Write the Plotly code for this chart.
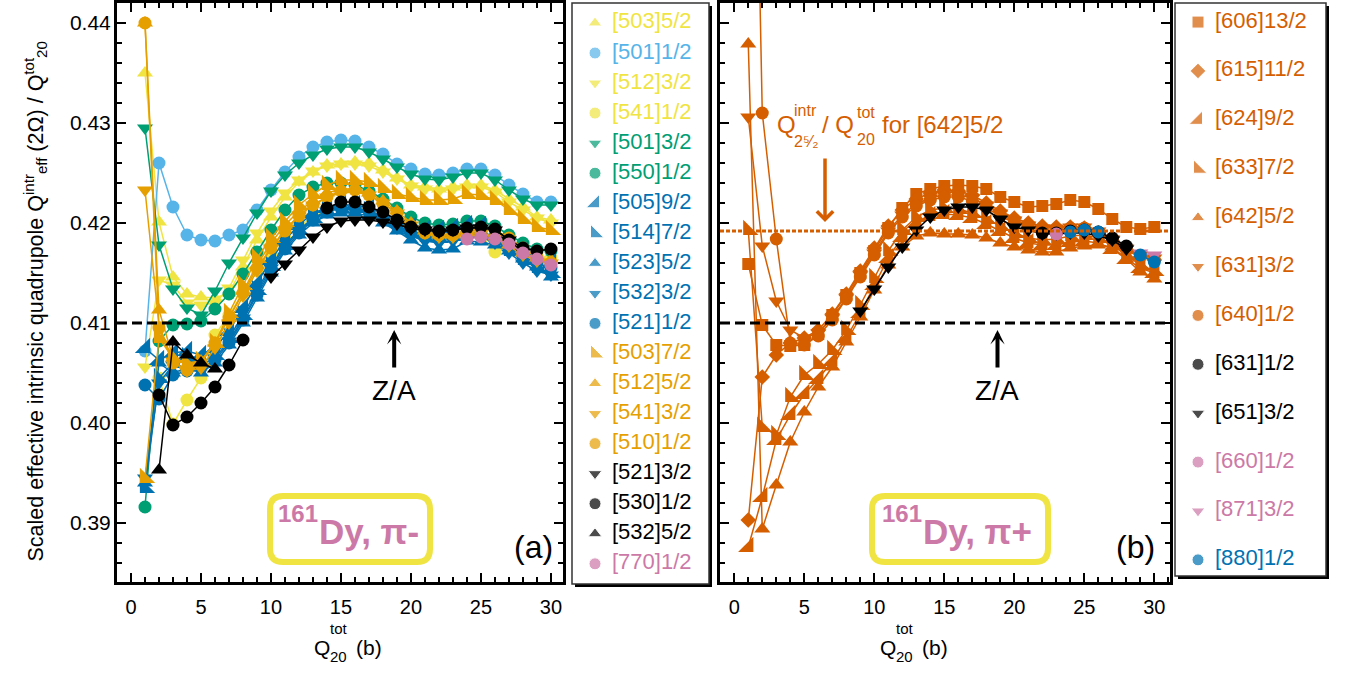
import plotly.graph_objects as go

W, H = 1353, 675
Q = list(range(1, 31))
N = None

# ---------------- panel (a) : pi- ----------------
a_labels = ["[503]5/2", "[501]1/2", "[512]3/2", "[541]1/2", "[501]3/2", "[550]1/2",
            "[505]9/2", "[514]7/2", "[523]5/2", "[532]3/2", "[521]1/2", "[503]7/2",
            "[512]5/2", "[541]3/2", "[510]1/2", "[521]3/2", "[530]1/2", "[532]5/2", "[770]1/2"]
a_colors = ["#F0E442", "#56B4E9", "#F0E442", "#F0E442", "#009E73", "#009E73",
            "#0072B2", "#0072B2", "#0072B2", "#0072B2", "#0072B2", "#E69F00",
            "#E69F00", "#E69F00", "#E69F00", "#000000", "#000000", "#000000", "#CC79A7"]
a_symbols = ["triangle-up", "circle", "triangle-down", "circle", "triangle-down", "circle",
             "triangle-se", "triangle-sw", "triangle-up", "triangle-down", "circle", "triangle-sw",
             "triangle-up", "triangle-down", "circle", "triangle-down", "circle", "triangle-up", "circle"]

a_503_5 = [0.4350, 0.4201, 0.4146, 0.4129, 0.4126, 0.4125, 0.4130, 0.4156, 0.4183, 0.4206, 0.4226, 0.4241, 0.4251, 0.4258, 0.4259,
           0.4261, 0.4260, 0.4253, 0.4245, 0.4238, 0.4236, 0.4234, 0.4236, 0.4238, 0.4238, 0.4233, 0.4224, 0.4216, 0.4206, 0.4203]
a_501_1 = [0.4072, 0.4260, 0.4216, 0.4188, 0.4183, 0.4182, 0.4188, 0.4193, 0.4213, 0.4233, 0.4251, 0.4266, 0.4276, 0.4281, 0.4283,
           0.4282, 0.4276, 0.4269, 0.4259, 0.4254, 0.4249, 0.4248, 0.4250, 0.4254, 0.4254, 0.4248, 0.4238, 0.4229, 0.4221, 0.4221]
a_512_3 = [0.4056, 0.4143, 0.4138, 0.4120, 0.4118, 0.4120, 0.4135, 0.4163, 0.4190, 0.4212, 0.4230, 0.4243, 0.4252, 0.4257, 0.4259,
           0.4259, 0.4257, 0.4251, 0.4244, 0.4237, 0.4234, 0.4232, 0.4234, 0.4236, 0.4236, 0.4231, 0.4221, 0.4213, 0.4205, 0.4200]
a_541_1 = [N, 0.4045, 0.3999, 0.4023, 0.4045, 0.4088, 0.4108, 0.4130, 0.4152, 0.4170, 0.4185, 0.4197, 0.4206, 0.4213, 0.4216,
           0.4216, 0.4212, 0.4205, 0.4198, 0.4190, 0.4187, 0.4186, 0.4188, 0.4190, 0.4188, 0.4171, 0.4180, 0.4174, 0.4168, 0.4165]
a_501_3 = [0.4295, 0.4178, 0.4134, 0.4115, 0.4108, 0.4132, 0.4160, 0.4185, 0.4210, 0.4232, 0.4248, 0.4260, 0.4268, 0.4274, 0.4276,
           0.4276, 0.4271, 0.4264, 0.4256, 0.4249, 0.4244, 0.4243, 0.4246, 0.4250, 0.4250, 0.4243, 0.4233, 0.4224, 0.4218, 0.4218]
a_550_1 = [0.3916, 0.4082, 0.4098, 0.4099, 0.4102, 0.4114, 0.4129, 0.4149, 0.4171, 0.4193, 0.4213, 0.4228, 0.4236, 0.4240, 0.4240,
           0.4238, 0.4232, 0.4224, 0.4215, 0.4206, 0.4200, 0.4198, 0.4199, 0.4202, 0.4202, 0.4197, 0.4188, 0.4180, 0.4174, 0.4172]
a_505_9 = [0.4075, 0.4063, 0.4070, 0.4072, 0.4068, 0.4075, 0.4092, 0.4115, 0.4140, 0.4163, 0.4183, 0.4198, 0.4210, 0.4215, 0.4218,
           0.4218, 0.4215, 0.4210, 0.4203, 0.4196, 0.4193, 0.4193, 0.4195, 0.4198, 0.4197, 0.4190, 0.4180, 0.4172, 0.4165, 0.4160]
a_514_7 = [0.3935, 0.4045, 0.4060, 0.4066, 0.4060, 0.4068, 0.4085, 0.4108, 0.4133, 0.4157, 0.4178, 0.4193, 0.4205, 0.4212, 0.4215,
           0.4215, 0.4212, 0.4205, 0.4197, 0.4190, 0.4186, 0.4185, 0.4187, 0.4190, 0.4189, 0.4183, 0.4172, 0.4163, 0.4155, 0.4150]
a_523_5 = [0.3940, 0.4060, 0.4050, 0.4055, 0.4050, 0.4060, 0.4078, 0.4100, 0.4125, 0.4150, 0.4172, 0.4188, 0.4200, 0.4208, 0.4210,
           0.4210, 0.4207, 0.4200, 0.4192, 0.4183, 0.4175, 0.4173, 0.4174, 0.4182, 0.4181, 0.4178, 0.4172, 0.4164, 0.4156, 0.4146]
a_532_3 = [0.3945, 0.4040, 0.4058, 0.4063, 0.4058, 0.4065, 0.4082, 0.4105, 0.4130, 0.4155, 0.4176, 0.4192, 0.4204, 0.4212, 0.4215,
           0.4214, 0.4210, 0.4203, 0.4195, 0.4187, 0.4182, 0.4180, 0.4182, 0.4186, 0.4186, 0.4180, 0.4170, 0.4160, 0.4152, 0.4148]
a_521_1 = [0.4038, 0.4024, 0.4048, 0.4052, 0.4055, 0.4063, 0.4080, 0.4103, 0.4128, 0.4152, 0.4174, 0.4190, 0.4203, 0.4211, 0.4215,
           0.4215, 0.4212, 0.4206, 0.4198, 0.4190, 0.4186, 0.4185, 0.4187, 0.4190, 0.4190, 0.4186, 0.4176, 0.4167, 0.4160, 0.4155]
a_503_7 = [0.3945, 0.4085, 0.4065, 0.4060, 0.4062, 0.4080, 0.4110, 0.4138, 0.4165, 0.4185, 0.4201, 0.4218, 0.4229, 0.4238, 0.4243,
           0.4243, 0.4241, 0.4235, 0.4229, 0.4226, 0.4223, 0.4223, 0.4224, 0.4229, 0.4228, 0.4223, 0.4213, 0.4204, 0.4196, 0.4193]
a_512_5 = [0.4400, 0.4113, 0.4065, 0.4058, 0.4062, 0.4080, 0.4105, 0.4132, 0.4158, 0.4180, 0.4198, 0.4212, 0.4222, 0.4230, 0.4234,
           0.4234, 0.4230, 0.4222, 0.4212, 0.4200, 0.4192, 0.4188, 0.4188, 0.4190, 0.4190, 0.4186, 0.4178, 0.4170, 0.4165, 0.4163]
a_541_3 = [0.4233, 0.4098, 0.4062, 0.4052, 0.4055, 0.4075, 0.4100, 0.4127, 0.4152, 0.4175, 0.4193, 0.4208, 0.4218, 0.4226, 0.4230,
           0.4231, 0.4228, 0.4220, 0.4210, 0.4198, 0.4190, 0.4186, 0.4186, 0.4188, 0.4190, 0.4185, 0.4177, 0.4168, 0.4162, 0.4160]
a_510_1 = [0.4400, 0.4095, 0.4060, 0.4053, 0.4060, 0.4080, 0.4105, 0.4130, 0.4155, 0.4175, 0.4192, 0.4207, 0.4218, 0.4226, 0.4232,
           0.4233, 0.4228, 0.4219, 0.4210, 0.4197, 0.4190, 0.4188, 0.4188, 0.4192, 0.4195, 0.4193, 0.4185, 0.4175, 0.4165, 0.4160]
a_521_3 = [N, N, N, N, N, N, N, N, N, 0.4146, 0.4159, 0.4173, 0.4186, 0.4196, 0.4202,
           0.4203, 0.4203, 0.4201, 0.4199, 0.4194, 0.4193, 0.4191, 0.4193, 0.4195, 0.4195, 0.4193, 0.4183, 0.4171, N, N]
a_530_1 = [N, 0.4028, 0.3998, 0.4006, 0.4020, 0.4036, 0.4058, 0.4083, N, N, N, N, N, 0.4215, 0.4221,
           0.4221, 0.4216, 0.4211, 0.4203, 0.4196, 0.4194, 0.4192, 0.4193, 0.4195, 0.4196, 0.4194, 0.4183, 0.4175, 0.4172, 0.4174]
a_532_5 = [N, 0.3953, 0.4081, 0.4068, 0.4060, 0.4054, N, N, N, N, N, N, N, N, N,
           N, N, N, N, N, N, N, N, N, N, N, N, N, N, N]
a_770_1 = [N, N, N, N, N, N, N, N, N, N, N, N, N, N, N,
           N, N, N, N, N, N, N, N, 0.4184, 0.4186, 0.4184, 0.4179, 0.4170, 0.4164, 0.4158]

a_series = [a_503_5, a_501_1, a_512_3, a_541_1, a_501_3, a_550_1, a_505_9, a_514_7, a_523_5, a_532_3,
            a_521_1, a_503_7, a_512_5, a_541_3, a_510_1, a_521_3, a_530_1, a_532_5, a_770_1]

# ---------------- panel (b) : pi+ ----------------
b_labels = ["[606]13/2", "[615]11/2", "[624]9/2", "[633]7/2", "[642]5/2", "[631]3/2",
            "[640]1/2", "[631]1/2", "[651]3/2", "[660]1/2", "[871]3/2", "[880]1/2"]
b_colors = ["#D55E00"] * 7 + ["#000000", "#000000", "#CC79A7", "#CC79A7", "#0072B2"]
b_symbols = ["square", "diamond", "triangle-se", "triangle-sw", "triangle-up", "triangle-down",
             "circle", "circle", "triangle-down", "circle", "triangle-down", "circle"]

b_606_13 = [0.4159, 0.4098, 0.4078, 0.4077, 0.4078, 0.4089, 0.4108, 0.4128, 0.4150, 0.4172, 0.4195, 0.4215, 0.4229, 0.4234, 0.4237,
            0.4238, 0.4237, 0.4234, 0.4226, 0.4221, 0.4216, 0.4217, 0.4219, 0.4223, 0.4221, 0.4214, 0.4204, 0.4196, 0.4194, 0.4196]
b_615_11 = [0.3903, 0.4046, 0.4068, 0.4080, 0.4085, 0.4093, 0.4109, 0.4129, 0.4152, 0.4175, 0.4197, 0.4213, 0.4224, 0.4230, 0.4233,
            0.4232, 0.4228, 0.4220, 0.4212, 0.4205, 0.4200, 0.4197, 0.4196, 0.4196, 0.4195, 0.4190, 0.4182, 0.4173, 0.4166, 0.4163]
b_624_9 = [0.3876, 0.3926, 0.3983, 0.4008, 0.4029, 0.4044, 0.4062, 0.4085, 0.4110, 0.4138, 0.4165, 0.4186, 0.4200, 0.4207, 0.4209,
           0.4208, 0.4205, 0.4199, 0.4192, 0.4185, 0.4180, 0.4178, 0.4178, 0.4181, 0.4182, 0.4180, 0.4174, 0.4164, 0.4155, 0.4150]
b_633_7 = [0.4193, 0.3996, 0.3988, 0.4026, 0.4048, 0.4059, 0.4073, 0.4093, 0.4118, 0.4145, 0.4172, 0.4193, 0.4206, 0.4213, 0.4215,
           0.4214, 0.4210, 0.4204, 0.4197, 0.4190, 0.4185, 0.4183, 0.4184, 0.4187, 0.4188, 0.4185, 0.4178, 0.4168, 0.4158, 0.4152]
b_642_5 = [0.4379, 0.3894, 0.3938, 0.3981, 0.4011, 0.4036, 0.4056, 0.4081, 0.4106, 0.4133, 0.4158, 0.4176, 0.4187, 0.4190, 0.4189,
           0.4189, 0.4188, 0.4185, 0.4180, 0.4176, 0.4173, 0.4171, 0.4171, 0.4175, 0.4177, 0.4178, 0.4176, 0.4164, 0.4151, 0.4144]
b_631_3 = [0.4306, 0.4177, 0.4122, 0.4093, 0.4085, 0.4090, 0.4105, 0.4125, 0.4148, 0.4170, 0.4192, 0.4208, 0.4219, 0.4225, 0.4228,
           0.4228, 0.4225, 0.4218, 0.4210, 0.4203, 0.4198, 0.4195, 0.4195, 0.4196, 0.4196, 0.4192, 0.4184, 0.4175, 0.4168, 0.4165]
b_640_1 = [0.5000, 0.4310, 0.4184, 0.4080, 0.4078, 0.4087, 0.4103, 0.4124, 0.4146, 0.4168, 0.4190, 0.4206, 0.4217, 0.4223, 0.4226,
           0.4226, 0.4222, 0.4215, 0.4207, 0.4200, 0.4196, 0.4193, 0.4193, 0.4195, 0.4195, 0.4190, 0.4182, 0.4173, 0.4166, 0.4163]
b_631_1 = [N, N, N, N, N, N, N, N, N, N, N, N, N, N, N,
           N, N, N, N, N, N, 0.4190, 0.4190, 0.4192, 0.4193, 0.4191, 0.4185, 0.4177, N, N]
b_651_3 = [N, N, N, N, N, N, N, N, 0.4112, 0.4134, 0.4156, 0.4176, 0.4193, 0.4206, 0.4213,
           0.4216, 0.4216, 0.4213, 0.4204, 0.4196, 0.4193, 0.4189, 0.4189, 0.4190, 0.4190, 0.4187, 0.4183, 0.4174, N, N]
b_660_1 = [N, N, N, N, N, N, N, N, N, N, N, N, N, N, N,
           N, N, N, N, N, N, N, 0.4189, N, N, N, N, N, N, N]
b_871_3 = [N, N, N, N, N, N, N, N, N, N, N, N, N, N, N,
           N, N, N, N, N, N, N, N, N, N, N, N, N, 0.4170, 0.4168]
b_880_1 = [N, N, N, N, N, N, N, N, N, N, N, N, N, N, N,
           N, N, N, N, N, N, N, N, 0.4191, 0.4193, 0.4191, N, N, 0.4168, 0.4161]

b_series = [b_606_13, b_615_11, b_624_9, b_633_7, b_642_5, b_631_3, b_640_1,
            b_631_1, b_651_3, b_660_1, b_871_3, b_880_1]

ZA = 0.41           # Z/A reference line
Q2_642 = 0.4192     # Q_{2 5/2}^intr / Q20^tot for [642]5/2

FONT = "Liberation Sans"
VERM = "#D55E00"
PINK = "#CC79A7"


def px_x(p):
    return p / W


def px_y(p):
    return 1 - p / H


fig = go.Figure()


def msize(sym):
    if sym in ("triangle-se", "triangle-sw"):
        return 17
    if sym in ("diamond", "square"):
        return 12
    if sym in ("triangle-up", "triangle-down"):
        return 14
    return 13


for vals, col, sym in zip(a_series, a_colors, a_symbols):
    fig.add_trace(go.Scatter(x=Q, y=vals, mode="lines+markers", xaxis="x", yaxis="y",
                             line=dict(color=col, width=1.5),
                             marker=dict(symbol=sym, size=msize(sym), color=col),
                             connectgaps=False, showlegend=False, hoverinfo="skip"))
for vals, col, sym in zip(b_series, b_colors, b_symbols):
    fig.add_trace(go.Scatter(x=Q, y=vals, mode="lines+markers", xaxis="x2", yaxis="y2",
                             line=dict(color=col, width=1.5),
                             marker=dict(symbol=sym, size=msize(sym), color=col),
                             connectgaps=False, showlegend=False, hoverinfo="skip"))

# reference lines
for xa, ya, xr in (("x", "y", [-1, 30.86]), ("x2", "y2", [-1.02, 31.12])):
    fig.add_trace(go.Scatter(x=xr, y=[ZA, ZA], mode="lines", xaxis=xa, yaxis=ya,
                             line=dict(color="black", width=3, dash="10px,5px"),
                             showlegend=False, hoverinfo="skip"))
fig.add_trace(go.Scatter(x=[-1.02, 31.12], y=[Q2_642, Q2_642], mode="lines", xaxis="x2", yaxis="y2",
                         line=dict(color=VERM, width=3, dash="4px,2px"),
                         showlegend=False, hoverinfo="skip"))


# ---------------- custom legends ----------------
def add_legend(labels, colors, symbols, xa, ya):
    n = len(labels)
    ys = [-i for i in range(n)]
    fig.add_trace(go.Scatter(x=[23] * n, y=ys, mode="markers", xaxis=xa, yaxis=ya,
                             marker=dict(symbol=symbols, color=colors,
                                         size=[12 if s not in ("triangle-se", "triangle-sw") else 15 for s in symbols]),
                             showlegend=False, hoverinfo="skip"))
    fig.add_trace(go.Scatter(x=[40] * n, y=ys, mode="text", xaxis=xa, yaxis=ya, text=labels,
                             textposition="middle right",
                             textfont=dict(family=FONT, size=22, color=colors),
                             showlegend=False, hoverinfo="skip"))


add_legend(a_labels, a_colors, a_symbols, "x3", "y3")
add_legend(b_labels, b_colors, b_symbols, "x4", "y4")

tickfont_y = dict(family=FONT, size=21, color="black")
tickfont_x = dict(family=FONT, size=20, color="black")
ax_common = dict(showline=True, linewidth=3, linecolor="black", mirror="allticks",
                 ticks="inside", ticklen=9, tickwidth=2, tickcolor="black",
                 showgrid=False, zeroline=False)
ydom = [px_y(582), px_y(3)]

fig.update_layout(
    width=W, height=H, margin=dict(l=0, r=0, t=0, b=0),
    paper_bgcolor="white", plot_bgcolor="white", showlegend=False,
    xaxis=dict(domain=[px_x(117), px_x(563)], range=[-1, 30.86], dtick=5, tick0=0,
               minor=dict(ticks="inside", ticklen=5, tickwidth=1.5, dtick=1, tickcolor="black"),
               tickfont=tickfont_x, ticklabelstandoff=5, anchor="y", **ax_common),
    yaxis=dict(domain=ydom, range=[0.3841, 0.4420], dtick=0.01, tick0=0.39, tickformat=".2f",
               minor=dict(ticks="inside", ticklen=5, tickwidth=1.5, dtick=0.002, tickcolor="black"),
               tickfont=tickfont_y, ticklabelstandoff=-1, anchor="x", **ax_common),
    xaxis2=dict(domain=[px_x(720), px_x(1170)], range=[-1.02, 31.12], dtick=5, tick0=0,
                minor=dict(ticks="inside", ticklen=5, tickwidth=1.5, dtick=1, tickcolor="black"),
                tickfont=tickfont_x, ticklabelstandoff=5, anchor="y2", **ax_common),
    yaxis2=dict(domain=ydom, range=[0.3841, 0.4420], dtick=0.01, tick0=0.39,
                minor=dict(ticks="inside", ticklen=5, tickwidth=1.5, dtick=0.002, tickcolor="black"),
                showticklabels=False, anchor="x2", **ax_common),
    xaxis3=dict(domain=[px_x(572), px_x(709)], range=[0, 137], visible=False, anchor="y3"),
    yaxis3=dict(domain=[px_y(584), px_y(3)], range=[-18.672, 0.664], visible=False, anchor="x3"),
    xaxis4=dict(domain=[px_x(1175), px_x(1326)], range=[0, 151], visible=False, anchor="y4"),
    yaxis4=dict(domain=[px_y(576), px_y(3)], range=[-11.33, 0.39], visible=False, anchor="x4"),
)

shapes = []
# legend boxes with shadow
for (x0, y0, x1, y1) in ((572, 3, 709, 584), (1175, 3, 1326, 576)):
    shapes.append(dict(type="rect", xref="paper", yref="paper", layer="below",
                       x0=px_x(x0 + 3), x1=px_x(x1 + 3), y0=px_y(y1 + 3), y1=px_y(y0 + 3),
                       fillcolor="black", line=dict(width=0)))
    shapes.append(dict(type="rect", xref="paper", yref="paper", layer="below",
                       x0=px_x(x0), x1=px_x(x1), y0=px_y(y1), y1=px_y(y0),
                       fillcolor="white", line=dict(color="#333333", width=1.5)))


def rrect(x0, y0, x1, y1, r):
    def P(x, y):
        return f"{px_x(x):.5f},{px_y(y):.5f}"
    return ("M" + P(x0 + r, y0) + " L" + P(x1 - r, y0) + " Q" + P(x1, y0) + " " + P(x1, y0 + r) +
            " L" + P(x1, y1 - r) + " Q" + P(x1, y1) + " " + P(x1 - r, y1) +
            " L" + P(x0 + r, y1) + " Q" + P(x0, y1) + " " + P(x0, y1 - r) +
            " L" + P(x0, y0 + r) + " Q" + P(x0, y0) + " " + P(x0 + r, y0) + " Z")


for (x0, y0, x1, y1) in ((270, 496, 430, 562), (872, 496, 1048, 562)):
    shapes.append(dict(type="path", xref="paper", yref="paper", layer="above",
                       path=rrect(x0, y0, x1, y1, 13), fillcolor="white",
                       line=dict(color="#F0E442", width=6)))
fig.update_layout(shapes=shapes)

ann = []


def ptxt(text, x, y, size, color="black", bold=False, anchor="left"):
    ann.append(dict(xref="paper", yref="paper", x=px_x(x), y=px_y(y), xanchor=anchor, yanchor="middle",
                    text=text, showarrow=False,
                    font=dict(family=FONT, size=size, color=color, weight="bold" if bold else "normal")))


# Z/A arrows and labels
for xr, yr in (("x", "y"), ("x2", "y2")):
    ann.append(dict(xref=xr, yref=yr, axref=xr, ayref=yr, x=18.8, y=0.4093, ax=18.8, ay=0.4054,
                    showarrow=True, arrowhead=3, arrowsize=0.6, arrowwidth=4, arrowcolor="black", text=""))
    ann.append(dict(xref=xr, yref=yr, x=18.8, y=0.4033, text="Z/A", showarrow=False,
                    font=dict(family=FONT, size=28, color="black")))
# orange arrow
ann.append(dict(xref="x2", yref="y2", axref="x2", ayref="y2", x=6.48, y=0.4201, ax=6.48, ay=0.4266,
                showarrow=True, arrowhead=4, arrowsize=0.9, arrowwidth=3.5, arrowcolor=VERM, text=""))
# orange label with stacked sub/superscripts
ptxt("Q", 775, 125, 24, VERM)
ptxt("intr", 792, 110, 16, VERM)
ptxt("2⁵⁄₂", 792, 141, 16, VERM)
ptxt("/ Q", 820, 125, 24, VERM)
ptxt("tot", 855, 112, 16, VERM)
ptxt("20", 855, 139, 16, VERM)
ptxt("for [642]5/2", 880, 125, 24, VERM)

# panel labels
ptxt("(a)", 533, 547, 32, anchor="center")
ptxt("(b)", 1135, 547, 32, anchor="center")

# nucleus boxes text
ptxt("161", 276, 513, 24, PINK, bold=True)
ptxt("Dy, π-", 317, 531, 35, PINK, bold=True)
ptxt("161", 880, 513, 24, PINK, bold=True)
ptxt("Dy, π+", 921, 531, 35, PINK, bold=True)

# x-axis titles (stacked tot/20)
for dx in (0, 566):
    ptxt("Q", 312 + dx, 647, 21)
    ptxt("tot", 328 + dx, 628, 15)
    ptxt("20", 328 + dx, 656, 15)
    ptxt("(b)", 354 + dx, 647, 21)

# y-axis title
ann.append(dict(xref="paper", yref="paper", x=px_x(17), y=px_y(302), textangle=-90,
                text="Scaled effective intrinsic quadrupole Q<sup>intr</sup><sub>eff</sub> (2Ω) / Q<sup>tot</sup><sub>20</sub>",
                showarrow=False, font=dict(family=FONT, size=21.5, color="black")))
fig.update_layout(annotations=ann)

fig.write_html("out.html", config={"displayModeBar": False},
               post_script="document.body.style.margin='0px';document.body.style.overflow='hidden';")
